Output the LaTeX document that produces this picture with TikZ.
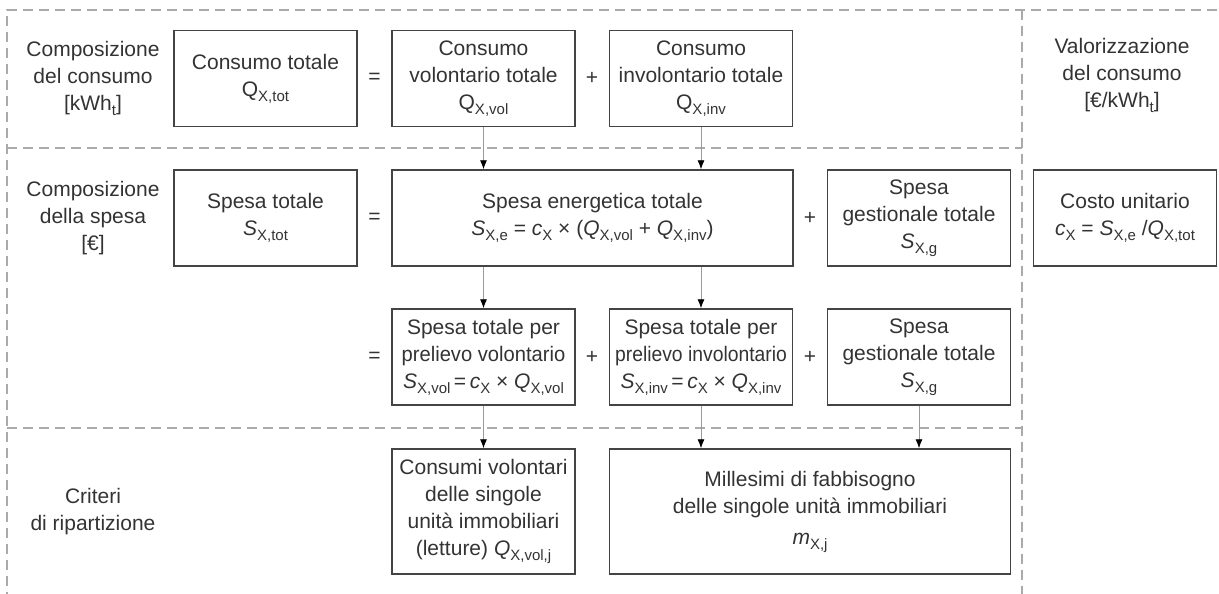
\documentclass[tikz,border=0pt]{standalone}
\usepackage{fontspec}
\setmainfont{Liberation Sans}
\usepackage{graphicx}
\usetikzlibrary{arrows.meta}

\definecolor{txtgray}{HTML}{333333}
\definecolor{boxgray}{HTML}{444444}
\definecolor{sepgray}{HTML}{AAAAAA}
\definecolor{flowgray}{HTML}{9A9A9A}

% pedice abbassato e variabile corsiva
\newcommand{\lo}[1]{\raisebox{-5pt}{\fontsize{15}{15}\selectfont #1}}
\newcommand{\iv}[1]{\textit{#1}}
\newcommand{\squeeze}[2]{\scalebox{#1}[1]{#2}}

\tikzset{
  box/.style={draw=boxgray,line width=1.5pt,align=center,inner sep=0pt,
    minimum width=183pt,minimum height=96pt,text=txtgray},
  widebox/.style={box,minimum width=401pt},
  tallbox/.style={minimum height=125pt},
  sep/.style={draw=sepgray,line width=1.2pt,dash pattern=on 10pt off 6pt},
  flow/.style={draw=flowgray,line width=0.8pt,-{Latex[length=9pt,width=7pt,color=black]}},
  lbl/.style={align=center,text=txtgray},
  sign/.style={text=txtgray}
}

\begin{document}
\begin{tikzpicture}[x=1pt,y=1pt,font=\fontsize{21}{27}\selectfont]
  \useasboundingbox (0,0) rectangle (1219,-594);

  % righe e colonne
  \coordinate (L1) at (93,-78.5);
  \coordinate (L2) at (93,-218);
  \coordinate (L4) at (93,-511.5);
  \coordinate (V)  at (1122,-75);

  % linee tratteggiate di separazione
  \draw[sep] (1217,-10) -- (7,-10) -- (7,-594);
  \draw[sep] (1022,-10) -- (1022,-594);
  \draw[sep] (7,-148) -- (1022,-148);
  \draw[sep] (7,-428) -- (1022,-428);

  % etichette di riga
  \node[lbl] (cons) at (L1) {Composizione\\del consumo\\{}[kWh\lo{t}]};
  \node[lbl] (spesa) at (L2) {Composizione\\della spesa\\{}[€]};
  \node[lbl] (crit) at (L4) {Criteri\\di ripartizione};
  \node[lbl] (valor) at (V) {Valorizzazione\\del consumo\\{}[€/kWh\lo{t}]};

  % composizione del consumo
  \node[box] (ctot) at (265.5,-78.5) {Consumo totale\\Q\lo{X,tot}};
  \node[sign] (eq1) at (374.5,-78.5) {=};
  \node[box] (cvol) at (483.5,-78.5) {Consumo\\volontario totale\\Q\lo{X,vol}};
  \node[sign] (pl1) at (592,-78.5) {+};
  \node[box] (cinv) at (701,-78.5) {Consumo\\involontario totale\\Q\lo{X,inv}};

  % composizione della spesa
  \node[box] (stot) at (265.5,-218) {Spesa totale\\\iv{S}\lo{X,tot}};
  \node[sign] (eq2) at (374.5,-218) {=};
  \node[widebox] (se) at (592.5,-218)
    {Spesa energetica totale\\\iv{S}\lo{X,e} = \iv{c}\lo{X} × (\iv{Q}\lo{X,vol} + \iv{Q}\lo{X,inv})};
  \node[sign] (pl2) at (810,-218) {+};
  \node[box] (sg) at (919,-218) {Spesa\\gestionale totale\\\iv{S}\lo{X,g}};
  \node[box] (cu) at (1125,-218)
    {Costo unitario\\\iv{c}\lo{X} = \iv{S}\lo{X,e} /\iv{Q}\lo{X,tot}};

  \node[sign] (eq3) at (374.5,-357) {=};
  \node[box] (svol) at (483.5,-357)
    {Spesa totale per\\\squeeze{0.96}{prelievo volontario}\\\iv{S}\lo{X,vol}\,=\,\iv{c}\lo{X} × \iv{Q}\lo{X,vol}};
  \node[sign] (pl3) at (592,-357) {+};
  \node[box] (sinv) at (701,-357)
    {Spesa totale per\\\squeeze{0.92}{prelievo involontario}\\\iv{S}\lo{X,inv}\,=\,\iv{c}\lo{X} × \iv{Q}\lo{X,inv}};
  \node[sign] (pl4) at (810,-357) {+};
  \node[box] (sg2) at (919,-357) {Spesa\\gestionale totale\\\iv{S}\lo{X,g}};

  % criteri di ripartizione
  \node[box,tallbox] (qj) at (483.5,-511.5)
    {Consumi volontari\\delle singole\\unità immobiliari\\(letture) \iv{Q}\lo{X,vol,j}};
  \node[widebox,tallbox] (mill) at (810,-511.5)
    {Millesimi di fabbisogno\\delle singole unità immobiliari\\[4pt]\iv{m}\lo{X,j}};

  % frecce
  \draw[flow] (cvol.south) -- (cvol.south |- se.north);
  \draw[flow] (cinv.south) -- (cinv.south |- se.north);
  \draw[flow] (svol.north |- se.south) -- (svol.north);
  \draw[flow] (sinv.north |- se.south) -- (sinv.north);
  \draw[flow] (svol.south) -- (qj.north);
  \draw[flow] (sinv.south) -- (sinv.south |- mill.north);
  \draw[flow] (sg2.south) -- (sg2.south |- mill.north);
\end{tikzpicture}
\end{document}
